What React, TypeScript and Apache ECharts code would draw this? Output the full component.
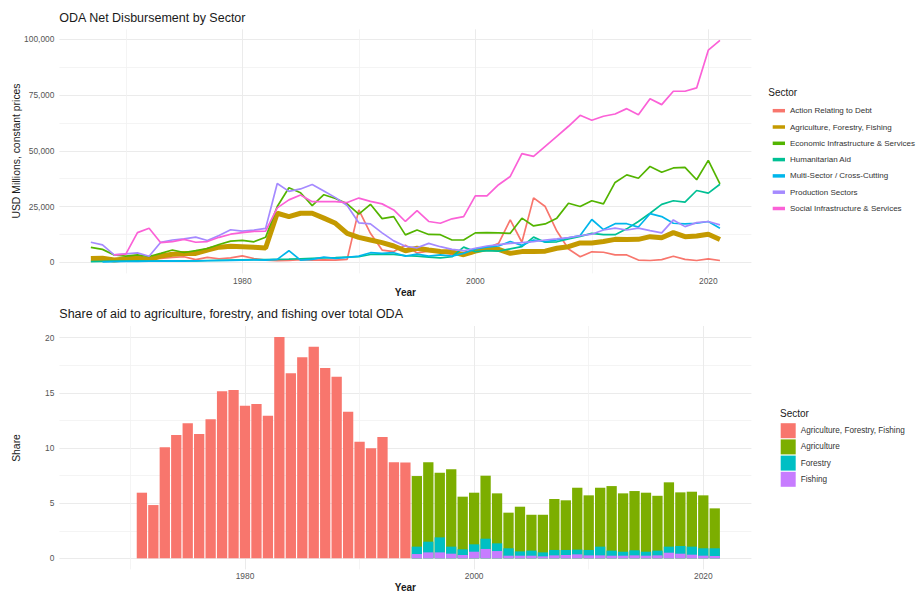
import React, { useEffect, useRef } from 'react';
import * as echarts from 'echarts';

const FONT = '"Liberation Sans", Arial, Helvetica, sans-serif';

// ---------- Top chart data (USD millions, constant prices) ----------
const topYears = [
  1967, 1968, 1969, 1970, 1971, 1972, 1973, 1974, 1975, 1976,
  1977, 1978, 1979, 1980, 1981, 1982, 1983, 1984, 1985, 1986,
  1987, 1988, 1989, 1990, 1991, 1992, 1993, 1994, 1995, 1996,
  1997, 1998, 1999, 2000, 2001, 2002, 2003, 2004, 2005, 2006,
  2007, 2008, 2009, 2010, 2011, 2012, 2013, 2014, 2015, 2016,
  2017, 2018, 2019, 2020, 2021,
];

const sectorNames = [
  'Action Relating to Debt',
  'Agriculture, Forestry, Fishing',
  'Economic Infrastructure & Services',
  'Humanitarian Aid',
  'Multi-Sector / Cross-Cutting',
  'Production Sectors',
  'Social Infrastructure & Services',
];
const sectorColors = ['#F8766D', '#C49A00', '#53B400', '#00C094', '#00B6EB', '#A58AFF', '#FB61D7'];

const debt = [
  500, 600, 800, 1000, 2000, 1500, 1800, 2200, 2500, 1200,
  2200, 1600, 2000, 2900, 1700, 1000, 700, 900, 1200, 1000,
  1100, 1000, 1300, 23500, 13000, 5500, 4800, 7700, 4200, 5000,
  4500, 3500, 4500, 5000, 6300, 8500, 19000, 9000, 28900, 25000,
  14000, 6000, 2500, 4700, 4500, 3300, 3300, 1000, 800, 1200,
  2700, 1300, 800, 1500, 800,
];
const agriForFish = [
  1700, 1800, 1000, 1500, 2000, 1200, 2800, 3600, 4000, 4000,
  5500, 6800, 7200, 7000, 6700, 6400, 22000, 20500, 22000, 22000,
  19800, 17500, 13000, 11200, 10000, 8800, 7300, 5200, 6300, 5500,
  4800, 4700, 3400, 5000, 6200, 5800, 4000, 4800, 4800, 5000,
  6300, 7000, 8700, 8700, 9300, 10300, 10200, 10300, 11500, 11000,
  13300, 11500, 11800, 12600, 10200,
];
const economic = [
  6700, 5800, 3300, 2800, 3300, 2600, 4000, 5500, 4400, 5200,
  6200, 8000, 9500, 9800, 9200, 11200, 25000, 33400, 31200, 25400,
  30300, 28600, 26200, 21600, 26000, 19600, 20500, 12300, 14500, 12500,
  12400, 10000, 10000, 13200, 13300, 13200, 13000, 19800, 16300, 17200,
  19800, 26500, 25000, 27600, 26200, 35800, 39200, 37700, 43000, 40400,
  42300, 42600, 37000, 45700, 35200,
];
const humanitarian = [
  300, 400, 500, 500, 600, 500, 600, 700, 700, 600,
  800, 900, 1000, 1100, 1200, 1200, 1300, 1400, 1600, 1800,
  2000, 2100, 2300, 2500, 3500, 3700, 3500, 3000, 2800, 2300,
  2000, 2500, 6800, 4800, 5200, 5000, 6000, 7000, 11300, 9000,
  9200, 10500, 11600, 13000, 12400, 12400, 15000, 18300, 22000, 26000,
  27600, 27000, 32200, 31000, 35000,
];
const multiSector = [
  null, 200, 300, 400, 400, 500, 500, 600, 500, 600,
  700, 800, 900, 1000, 1100, 1000, 1300, 5200, 1000, 1300,
  2300, 1800, 2200, 2800, 4300, 4000, 4300, 2800, 3700, 2800,
  3300, 2800, 4000, 6000, 6800, 7300, 9300, 7600, 10000, 9300,
  10000, 11000, 12000, 19200, 14700, 17300, 17300, 15800, 21800, 20500,
  17500, 17200, 17500, 18300, 15300,
];
const production = [
  9000, 7800, 3300, 3800, 4200, 2700, 9000, 10000, 10500, 11300,
  9800, 12000, 14600, 14000, 14400, 15200, 35300, 31800, 32900, 34900,
  32000, 29000, 25500, 17700, 17200, 13200, 9600, 7200, 6500, 8500,
  7000, 5800, 5200, 6300, 7300, 7900, 8500, 8800, 9300, 10000,
  10500, 11100, 11900, 12600, 14500, 15300, 14500, 15300, 14200, 13200,
  19000, 16000, 17800, 18300, 16800,
];
const social = [
  null, null, 3300, 3700, 13300, 15300, 8800, 9300, 10300, 9000,
  9300, 11200, 12600, 13300, 13900, 14000, 24400, 28000, 30200, 27200,
  27200, 27200, 26800, 28800, 27300, 26200, 23500, 18300, 23200, 18300,
  17500, 19500, 20500, 29800, 29800, 34800, 38500, 48700, 47500, 52000,
  56500, 61000, 65900, 63700, 65500, 66500, 68900, 66200, 73300, 70700,
  76700, 76700, 78200, 95100, 99500,
];
const topSeriesValues = [debt, agriForFish, economic, humanitarian, multiSector, production, social];

const topXTicks = [1980, 2000, 2020];
const topXMinor = [1970, 1990, 2010];
const topYTicks = [0, 25000, 50000, 75000, 100000];
const topYMinor = [12500, 37500, 62500, 87500];

// ---------- Bottom chart data (share, %) ----------
const barYears = [
  1971, 1972, 1973, 1974, 1975, 1976, 1977, 1978, 1979, 1980,
  1981, 1982, 1983, 1984, 1985, 1986, 1987, 1988, 1989, 1990,
  1991, 1992, 1993, 1994, 1995, 1996, 1997, 1998, 1999, 2000,
  2001, 2002, 2003, 2004, 2005, 2006, 2007, 2008, 2009, 2010,
  2011, 2012, 2013, 2014, 2015, 2016, 2017, 2018, 2019, 2020,
  2021,
];
const shareNames = ['Agriculture, Forestry, Fishing', 'Agriculture', 'Forestry', 'Fishing'];
const shareColors = ['#F8766D', '#7CAE00', '#00BFC4', '#C77CFF'];

const shareAFF = [
  5.95, 4.83, 10.06, 11.18, 12.24, 11.27, 12.6, 15.14, 15.26, 13.84,
  14.0, 12.93, 20.06, 16.77, 18.22, 19.19, 17.25, 16.47, 13.29, 10.57,
  9.97, 11.0, 8.7, 8.68, null, null, null, null, null, null,
  null, null, null, null, null, null, null, null, null, null,
  null, null, null, null, null, null, null, null, null, null,
  null,
];
const shareAgriculture = [
  null, null, null, null, null, null, null, null, null, null,
  null, null, null, null, null, null, null, null, null, null,
  null, null, null, null, 6.4, 7.19, 5.86, 7.01, 4.77, 4.68,
  5.71, 4.53, 3.23, 4.05, 3.25, 3.41, 4.62, 4.5, 5.61, 4.95,
  5.34, 5.85, 5.29, 5.37, 5.35, 4.97, 5.83, 4.86, 4.98, 4.8,
  3.62,
];
const shareForestry = [
  null, null, null, null, null, null, null, null, null, null,
  null, null, null, null, null, null, null, null, null, null,
  null, null, null, null, 0.67, 0.97, 1.36, 0.64, 0.52, 0.67,
  0.93, 0.7, 0.67, 0.39, 0.46, 0.36, 0.49, 0.46, 0.43, 0.49,
  0.79, 0.46, 0.36, 0.46, 0.36, 0.43, 0.55, 0.7, 0.73, 0.67,
  0.7,
];
const shareFishing = [
  null, null, null, null, null, null, null, null, null, null,
  null, null, null, null, null, null, null, null, null, null,
  null, null, null, null, 0.39, 0.54, 0.54, 0.42, 0.3, 0.6,
  0.85, 0.66, 0.24, 0.24, 0.24, 0.18, 0.27, 0.3, 0.36, 0.27,
  0.27, 0.24, 0.24, 0.27, 0.24, 0.27, 0.51, 0.42, 0.33, 0.24,
  0.21,
];

const botXTicks = [1980, 2000, 2020];
const botXMinor = [1970, 1990, 2010];
const botYTicks = [0, 5, 10, 15, 20];
const botYMinor = [2.5, 7.5, 12.5, 17.5];

const MAJOR = '#EBEBEB';
const MINOR = '#F1F1F1';
const LABEL = '#555555';
const INK = '#1A1A1A';

function pairs(xs: number[], vs: (number | null)[]) {
  return xs.map((x, i) => [x, vs[i]]);
}

// cumulative stack tops (ggplot stacking order: Agriculture on top, then Forestry, then Fishing)
function addArrays(...arrs: (number | null)[][]) {
  return arrs[0].map((_, i) => {
    if (arrs.some((a) => a[i] === null || a[i] === undefined)) return null;
    return arrs.reduce((s, a) => s + (a[i] as number), 0);
  });
}

function xAxisPair(grid: number, min: number, max: number, major: number[], minor: number[], margin: number) {
  return [
    {
      type: 'value', gridIndex: grid, min, max,
      axisLine: { show: false },
      axisTick: { show: false, customValues: major },
      axisLabel: { customValues: major, color: LABEL, fontSize: 8.4, fontFamily: FONT, margin, formatter: (v: number) => String(v) },
      splitLine: { show: true, lineStyle: { color: MAJOR, width: 1 } },
    },
    {
      type: 'value', gridIndex: grid, min, max,
      axisLine: { show: false },
      axisTick: { show: false, customValues: minor },
      axisLabel: { show: false },
      splitLine: { show: true, lineStyle: { color: MINOR, width: 0.8 } },
    },
  ];
}

function yAxisPair(grid: number, min: number, max: number, major: number[], minor: number[], fmt: (v: number) => string) {
  return [
    {
      type: 'value', gridIndex: grid, min, max,
      axisLine: { show: false },
      axisTick: { show: false, customValues: major },
      axisLabel: { customValues: major, color: LABEL, fontSize: 8.4, fontFamily: FONT, margin: 5, formatter: fmt },
      splitLine: { show: true, lineStyle: { color: MAJOR, width: 1 } },
    },
    {
      type: 'value', gridIndex: grid, min, max,
      axisLine: { show: false },
      axisTick: { show: false, customValues: minor },
      axisLabel: { show: false },
      splitLine: { show: true, lineStyle: { color: MINOR, width: 0.8 } },
    },
  ];
}

export default function App() {
  const ref = useRef<HTMLDivElement>(null);

  useEffect(() => {
    const chart = echarts.init(ref.current!, null, { renderer: 'svg' });

    const lineSeries = sectorNames.map((name, i) => ({
      type: 'line',
      name,
      xAxisIndex: 0,
      yAxisIndex: 0,
      data: pairs(topYears, topSeriesValues[i]),
      symbol: 'none',
      showSymbol: false,
      color: sectorColors[i],
      itemStyle: { color: sectorColors[i] },
      lineStyle: { color: sectorColors[i], width: i === 1 ? 5 : 1.7 },
      silent: true,
    }));

    const agriTop = addArrays(shareAgriculture, shareForestry, shareFishing);
    const forestTop = addArrays(shareForestry, shareFishing);

    const barDefs = [
      { name: shareNames[0], values: shareAFF, color: shareColors[0] },
      { name: shareNames[1], values: agriTop, color: shareColors[1] },
      { name: shareNames[2], values: forestTop, color: shareColors[2] },
      { name: shareNames[3], values: shareFishing, color: shareColors[3] },
    ];
    const barSeries = barDefs.map((d) => ({
      type: 'bar',
      name: d.name,
      xAxisIndex: 2,
      yAxisIndex: 2,
      barWidth: 10.3,
      barGap: '-100%',
      data: pairs(barYears, d.values),
      itemStyle: { color: d.color },
      silent: true,
    }));

    const option: any = {
      animation: false,
      backgroundColor: '#ffffff',
      textStyle: { fontFamily: FONT },
      grid: [
        { left: 59.4, top: 29.3, width: 692, height: 244.1 },
        { left: 59.4, top: 326, width: 692, height: 243.4 },
      ],
      xAxis: [
        ...xAxisPair(0, 1964.3, 2023.7, topXTicks, topXMinor, 4),
        ...xAxisPair(1, 1963.8, 2024.2, botXTicks, botXMinor, 3),
      ],
      yAxis: [
        ...yAxisPair(0, -4975, 104475, topYTicks, topYMinor, (v: number) => v.toLocaleString('en-US')),
        ...yAxisPair(1, -1.003, 21.06, botYTicks, botYMinor, (v: number) => String(v)),
      ],
      legend: [
        {
          orient: 'vertical', left: 772.7, top: 104.7, padding: 0,
          icon: 'rect', itemWidth: 12.3, itemHeight: 3.5, itemGap: 4.3,
          selectedMode: false,
          itemStyle: { borderWidth: 0 },
          textStyle: { fontSize: 8, lineHeight: 12, color: '#333333', fontFamily: FONT },
          data: sectorNames.map((n, i) => ({ name: n, itemStyle: { color: sectorColors[i], borderWidth: 0 } })),
        },
        {
          orient: 'vertical', left: 780.7, top: 423.2, padding: 0,
          icon: 'rect', itemWidth: 15, itemHeight: 15, itemGap: 1.2,
          selectedMode: false,
          itemStyle: { borderWidth: 0 },
          textStyle: { fontSize: 8.2, lineHeight: 12, color: '#333333', fontFamily: FONT },
          data: shareNames.map((n, i) => ({ name: n, itemStyle: { color: shareColors[i], borderWidth: 0 } })),
        },
      ],
      graphic: [
        { type: 'text', x: 59.3, y: 18.3, silent: true, style: { text: 'ODA Net Disbursement by Sector', fontSize: 12.5, fontFamily: FONT, fill: INK, align: 'left', verticalAlign: 'middle' } },
        { type: 'text', x: 59.3, y: 314, silent: true, style: { text: 'Share of aid to agriculture, forestry, and fishing over total ODA', fontSize: 12.5, fontFamily: FONT, fill: INK, align: 'left', verticalAlign: 'middle' } },
        { type: 'text', x: 16, y: 151, rotation: Math.PI / 2, silent: true, style: { text: 'USD Millions, constant prices', fontSize: 10.4, fontFamily: FONT, fill: INK, align: 'center', verticalAlign: 'middle' } },
        { type: 'text', x: 16, y: 448, rotation: Math.PI / 2, silent: true, style: { text: 'Share', fontSize: 10.4, fontFamily: FONT, fill: INK, align: 'center', verticalAlign: 'middle' } },
        { type: 'text', x: 405.4, y: 292.7, silent: true, style: { text: 'Year', fontSize: 10, fontWeight: 'bold', fontFamily: FONT, fill: INK, align: 'center', verticalAlign: 'middle' } },
        { type: 'text', x: 405.4, y: 587.3, silent: true, style: { text: 'Year', fontSize: 10, fontWeight: 'bold', fontFamily: FONT, fill: INK, align: 'center', verticalAlign: 'middle' } },
        { type: 'text', x: 768.3, y: 92.7, silent: true, style: { text: 'Sector', fontSize: 10, fontFamily: FONT, fill: INK, align: 'left', verticalAlign: 'middle' } },
        { type: 'text', x: 780, y: 413.3, silent: true, style: { text: 'Sector', fontSize: 10, fontFamily: FONT, fill: INK, align: 'left', verticalAlign: 'middle' } },
      ],
      series: [...lineSeries, ...barSeries],
    };

    chart.setOption(option);
    return () => chart.dispose();
  }, []);

  return (
    <div
      ref={ref}
      style={{ position: 'absolute', left: 0, top: 0, width: 920, height: 594, background: '#ffffff' }}
    />
  );
}
